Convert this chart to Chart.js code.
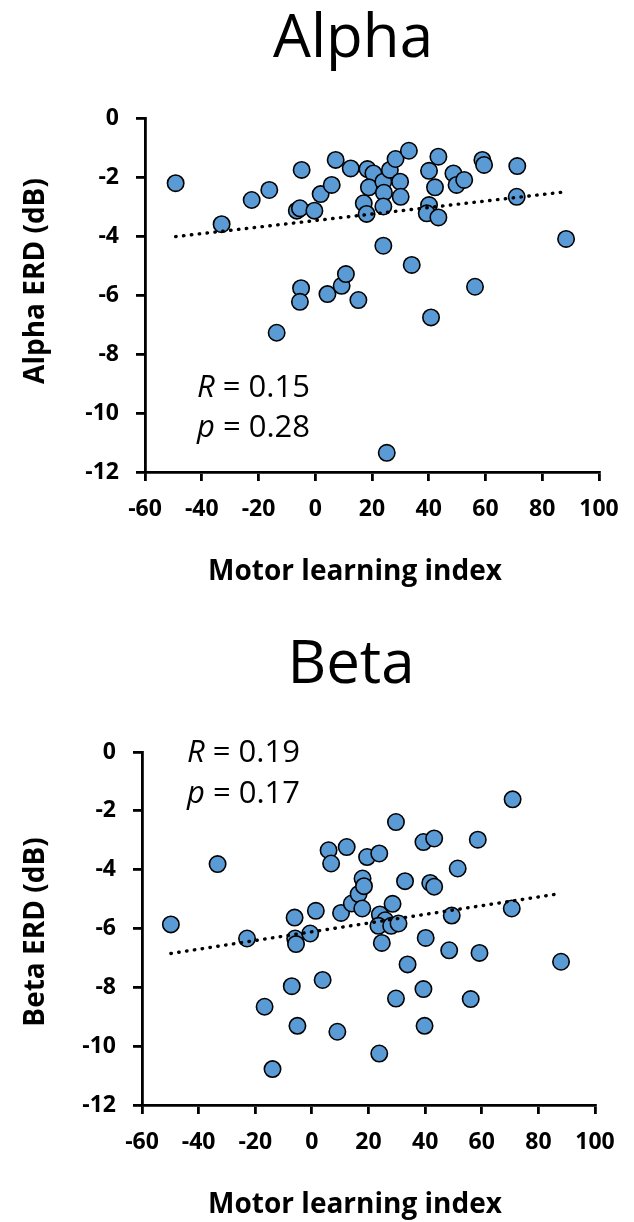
<!DOCTYPE html>
<html>
<head>
<meta charset="utf-8">
<title>Alpha / Beta ERD vs motor learning index</title>
<script src="https://cdn.jsdelivr.net/npm/chart.js@4.4.1/dist/chart.umd.min.js"></script>
<style>
    body { margin: 0; background: #fff; }
    canvas { display: block; }
</style>
</head>
<body>
<canvas id="alpha" width="634" height="610"></canvas>
<canvas id="beta" width="634" height="612"></canvas>
<script>
const xTicks = [-60, -40, -20, 0, 20, 40, 60, 80, 100];
const yTicks = [0, -2, -4, -6, -8, -10, -12];

// Alpha band: motor learning index vs ERD (dB)
const alphaX = [-49.2, -33.0, -22.4, -16.2, -4.8, -6.5, -5.4, -0.3, 1.9, 5.8, 7.2, 12.5, 18.4, 20.5, 18.9, 17.1, 18.1,
    24.0, 24.2, 26.3, 28.3, 33.0, 29.9, 30.1, 24.0, 24.0, 40.1, 43.4, 42.2, 40.1, 39.3, 43.4, 48.7, 49.8, 52.5,
    58.9, 59.5, 71.2, 71.0, 88.4, -5.0, -5.4, 4.3, 9.3, 10.8, 15.2, -13.6, 34.0, 56.3, 40.8, 25.2];
const alphaY = [-2.21, -3.60, -2.78, -2.44, -1.76, -3.14, -3.06, -3.14, -2.58, -2.27, -1.42, -1.71, -1.73, -1.88, -2.35, -2.89, -3.25,
    -2.16, -2.53, -1.76, -1.39, -1.11, -2.16, -2.67, -3.00, -4.33, -1.79, -1.31, -2.35, -2.95, -3.23, -3.37, -1.88, -2.27, -2.10,
    -1.42, -1.59, -1.63, -2.67, -4.10, -5.77, -6.23, -5.97, -5.69, -5.29, -6.17, -7.28, -4.98, -5.72, -6.76, -11.35];
const alphaTrendX = [-49.2, 88.4];
const alphaTrendY = [-4.02, -2.50];
const alphaStats = ["0.15", "0.28"];

// Beta band
const betaX = [-49.8, -33.3, -22.9, -16.7, -13.9, -7.1, -6.1, -5.9, -5.6, -5.1, -0.6, 1.4, 3.8, 5.9, 6.8, 9.0, 10.3, 12.3,
    14.1, 16.5, 17.9, 18.4, 17.8, 19.5, 23.8, 24.0, 25.9, 23.5, 28.0, 30.6, 24.7, 28.5, 29.7, 32.9, 33.8, 29.7, 23.8,
    39.4, 43.2, 41.8, 43.2, 40.2, 39.4, 39.8, 49.4, 48.5, 51.5, 58.6, 59.2, 56.1, 70.9, 70.6, 88.0];
const betaY = [-5.86, -3.81, -6.34, -8.66, -10.78, -7.96, -5.63, -6.34, -6.53, -9.31, -6.17, -5.40, -7.75, -3.34, -3.79, -9.51, -5.47, -3.23,
    -5.15, -4.83, -4.30, -4.56, -5.32, -3.57, -3.45, -5.52, -5.72, -5.91, -5.91, -5.83, -6.49, -5.16, -2.38, -4.39, -7.22, -8.38, -10.25,
    -3.06, -2.94, -4.45, -4.58, -6.32, -8.06, -9.31, -5.56, -6.74, -3.96, -2.98, -6.83, -8.40, -1.61, -5.32, -7.13];
const betaTrendX = [-49.8, 88.0];
const betaTrendY = [-6.85, -4.81];
const betaStats = ["0.19", "0.17"];

const FONT = "'Open Sans', sans-serif";

// titles, axis titles and the R / p note
const figText = {
    id: "figText",
    afterDraw(chart, args, o) {
        const ctx = chart.ctx;
        ctx.save();
        ctx.fillStyle = "#000";
        ctx.textBaseline = "alphabetic";
        ctx.textAlign = "center";

        ctx.font = "60px " + FONT;
        ctx.fillText(o.title, o.titleX, o.titleY);

        ctx.font = "bold 28px " + FONT;
        ctx.fillText(o.xTitle, o.xTitleX, o.xTitleY);

        ctx.save();
        ctx.translate(o.yTitleX, o.yTitleY);
        ctx.rotate(-Math.PI / 2);
        ctx.fillText(o.yTitle, 0, 0);
        ctx.restore();

        ctx.textAlign = "left";
        ["R", "p"].forEach((sym, i) => {
            let x = o.statX;
            const y = o.statY[i];
            ctx.font = "italic 31px " + FONT;
            ctx.fillText(sym, x, y);
            x += ctx.measureText(sym).width;
            ctx.font = "31px " + FONT;
            ctx.fillText(" = " + o.stats[i], x, y);
        });
        ctx.restore();
    }
};

function makeChart(id, xs, ys, tx, ty, text) {
    const canvas = document.getElementById(id);
    const points = xs.map((x, i) => ({ x: x, y: ys[i] }));
    const trend = tx.map((x, i) => ({ x: x, y: ty[i] }));

    return new Chart(canvas, {
        type: "scatter",
        data: {
            datasets: [
                {
                    data: trend,
                    showLine: true,
                    borderColor: "#000",
                    borderWidth: 3.4,
                    borderDash: [0.5, 7.4],
                    borderCapStyle: "round",
                    pointRadius: 0,
                    order: 0
                },
                {
                    data: points,
                    backgroundColor: "#5b9bd5",
                    borderColor: "#000",
                    borderWidth: 1.6,
                    pointRadius: 8.2,
                    pointHoverRadius: 8.2,
                    order: 1
                }
            ]
        },
        options: {
            responsive: false,
            animation: false,
            events: [],
            clip: false,
            layout: { padding: { top: text.areaTop, right: canvas.width - text.areaRight, bottom: 0, left: 0 } },
            plugins: {
                legend: { display: false },
                tooltip: { enabled: false },
                figText: text
            },
            scales: {
                x: {
                    type: "linear",
                    min: xTicks[0],
                    max: xTicks[xTicks.length - 1],
                    afterBuildTicks: s => { s.ticks = xTicks.map(v => ({ value: v })); },
                    afterFit: s => { s.height = canvas.height - text.areaBottom; },
                    border: { color: "#000", width: 2.8 },
                    grid: { drawOnChartArea: false, tickLength: 9, color: "#000", lineWidth: 2.8 },
                    ticks: { color: "#000", padding: 15, autoSkip: false, maxRotation: 0,
                             font: { family: FONT, size: 23, weight: "bold" } }
                },
                y: {
                    type: "linear",
                    min: yTicks[yTicks.length - 1],
                    max: yTicks[0],
                    afterBuildTicks: s => { s.ticks = yTicks.map(v => ({ value: v })); },
                    afterFit: s => { s.width = text.areaLeft; },
                    border: { color: "#000", width: 2.8 },
                    grid: { drawOnChartArea: false, tickLength: 9, color: "#000", lineWidth: 2.8 },
                    ticks: { color: "#000", padding: 17, autoSkip: false,
                             font: { family: FONT, size: 23, weight: "bold" } }
                }
            }
        },
        plugins: [figText]
    });
}

makeChart("alpha", alphaX, alphaY, alphaTrendX, alphaTrendY, {
    areaLeft: 145, areaRight: 599, areaTop: 118, areaBottom: 472,
    title: "Alpha", titleX: 353, titleY: 57,
    xTitle: "Motor learning index", xTitleX: 355, xTitleY: 580,
    yTitle: "Alpha ERD (dB)", yTitleX: 44, yTitleY: 281,
    statX: 197, statY: [397, 437], stats: alphaStats
});

makeChart("beta", betaX, betaY, betaTrendX, betaTrendY, {
    areaLeft: 142, areaRight: 595, areaTop: 142, areaBottom: 495,
    title: "Beta", titleX: 351, titleY: 73,
    xTitle: "Motor learning index", xTitleX: 355, xTitleY: 603,
    yTitle: "Beta ERD (dB)", yTitleX: 44, yTitleY: 322,
    statX: 187, statY: [152, 193], stats: betaStats
});
</script>
</body>
</html>
